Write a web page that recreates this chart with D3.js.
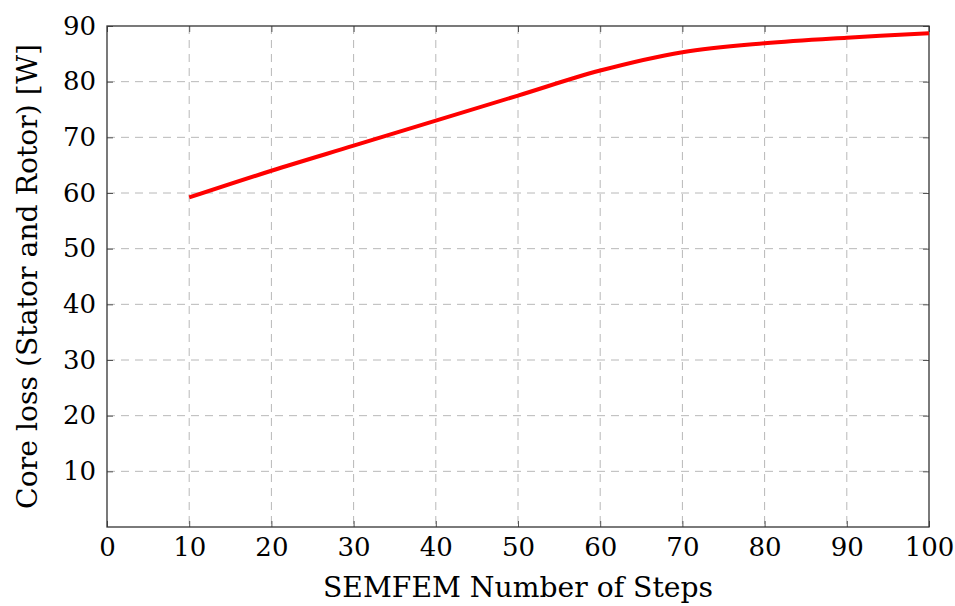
<!DOCTYPE html>
<html>
<head>
<meta charset="utf-8">
<script src="https://cdn.jsdelivr.net/npm/d3@7"></script>
<style>
  body { margin: 0; background: #fff; }
  svg text { fill: #000; }
</style>
</head>
<body>
<script>
// data
var steps = [10, 20, 30, 40, 50, 60, 70, 80, 90, 100];
var coreLoss = [59.2, 64.0, 68.5, 73.0, 77.5, 82.0, 85.3, 86.9, 87.9, 88.7];
var xTicks = [0, 10, 20, 30, 40, 50, 60, 70, 80, 90, 100];
var yTicks = [10, 20, 30, 40, 50, 60, 70, 80, 90];

var width = 955, height = 606;
var plotLeft = 107, plotRight = 929, plotTop = 26, plotBottom = 527;
var serif = "'DejaVu Serif', serif";

var x = d3.scaleLinear().domain([0, 100]).range([plotLeft, plotRight]);
var y = d3.scaleLinear().domain([0, 90]).range([plotBottom, plotTop]);

var svg = d3.select("body").append("svg")
    .attr("width", width)
    .attr("height", height);

// grid
svg.append("g").selectAll("line")
    .data(xTicks.filter(function (d) { return d > 0 && d < 100; }))
    .enter().append("line")
    .attr("x1", function (d) { return x(d); })
    .attr("x2", function (d) { return x(d); })
    .attr("y1", plotTop).attr("y2", plotBottom)
    .attr("stroke", "#b8b8b8").attr("stroke-width", 1)
    .attr("stroke-dasharray", "8,6");

svg.append("g").selectAll("line")
    .data(yTicks.filter(function (d) { return d < 90; }))
    .enter().append("line")
    .attr("y1", function (d) { return y(d); })
    .attr("y2", function (d) { return y(d); })
    .attr("x1", plotLeft).attr("x2", plotRight)
    .attr("stroke", "#b8b8b8").attr("stroke-width", 1)
    .attr("stroke-dasharray", "8,6");

// axes with inward ticks
var xAxis = d3.axisBottom(x).tickValues(xTicks).tickSizeInner(-6).tickSizeOuter(0).tickPadding(10);
var yAxis = d3.axisLeft(y).tickValues(yTicks).tickSizeInner(-6).tickSizeOuter(0).tickPadding(11);

var gx = svg.append("g").attr("transform", "translate(0," + plotBottom + ")").call(xAxis);
var gy = svg.append("g").attr("transform", "translate(" + plotLeft + ",0)").call(yAxis);
[gx, gy].forEach(function (g) {
    g.attr("font-family", serif).attr("font-size", 26).attr("font-weight", "normal");
    g.select(".domain").remove();
    g.selectAll(".tick line").attr("stroke", "#555");
});
gx.selectAll("text").attr("dy", "0.72em");

// top / right ticks
var gxt = svg.append("g").attr("transform", "translate(0," + plotTop + ")")
    .call(d3.axisTop(x).tickValues(xTicks).tickSizeInner(-6).tickSizeOuter(0).tickFormat(""));
var gyr = svg.append("g").attr("transform", "translate(" + plotRight + ",0)")
    .call(d3.axisRight(y).tickValues(yTicks).tickSizeInner(-6).tickSizeOuter(0).tickFormat(""));
[gxt, gyr].forEach(function (g) {
    g.select(".domain").remove();
    g.selectAll(".tick line").attr("stroke", "#555");
});

// frame
svg.append("rect")
    .attr("x", plotLeft).attr("y", plotTop)
    .attr("width", plotRight - plotLeft).attr("height", plotBottom - plotTop)
    .attr("fill", "none").attr("stroke", "#333").attr("stroke-width", 1.3);

// line
var line = d3.line()
    .x(function (d, i) { return x(steps[i]); })
    .y(function (d) { return y(d); })
    .curve(d3.curveCatmullRom.alpha(0.5));

svg.append("path")
    .datum(coreLoss)
    .attr("d", line)
    .attr("fill", "none")
    .attr("stroke", "#ff0000")
    .attr("stroke-width", 4)
    .attr("stroke-linejoin", "round");

// axis titles
svg.append("text")
    .attr("x", (plotLeft + plotRight) / 2)
    .attr("y", 597)
    .attr("text-anchor", "middle")
    .attr("font-family", serif)
    .attr("font-size", 27)
    .attr("textLength", 390)
    .attr("lengthAdjust", "spacingAndGlyphs")
    .text("SEMFEM Number of Steps");

svg.append("text")
    .attr("transform", "translate(37," + ((plotTop + plotBottom) / 2) + ") rotate(-90)")
    .attr("text-anchor", "middle")
    .attr("font-family", serif)
    .attr("font-size", 28)
    .attr("textLength", 465)
    .attr("lengthAdjust", "spacingAndGlyphs")
    .text("Core loss (Stator and Rotor) [W]");
</script>
</body>
</html>
